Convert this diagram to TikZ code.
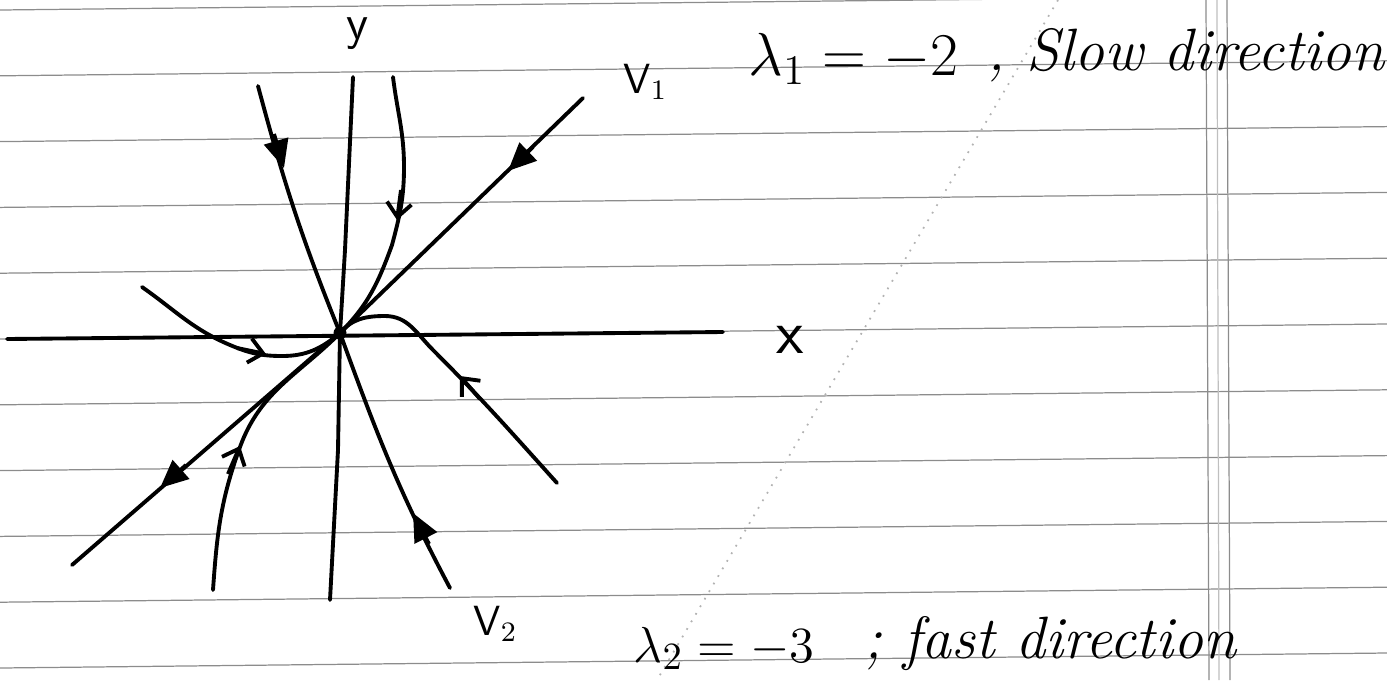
\documentclass[tikz,border=0pt]{standalone}
\usepackage{fontspec}
\usetikzlibrary{arrows.meta}

\tikzset{
    traj/.style={line width=1.1pt, line cap=round, line join=round},
    ruled/.style={black!45, line width=0.35pt},
    tipfill/.style={line width=1.1pt, -{Triangle[length=8pt,width=7pt]}},
    tipbarb/.style={line width=1.1pt, -{Straight Barb[length=4pt,width=7pt]}},
    hand/.style={font=\sffamily\fontsize{12}{14}\selectfont, inner sep=0pt},
    eqn/.style={font=\fontsize{15}{18}\selectfont, inner sep=0pt},
    script/.style={font=\itshape\fontsize{17}{20}\selectfont, inner sep=0pt},
}

\begin{document}
\begin{tikzpicture}[x=0.1mm, y=-0.1mm]
    \useasboundingbox (0,0) rectangle (1387,680);

    \foreach \k in {0,...,10}
        \draw[ruled] (0,{10+65.8*\k}) -- (1387,{-5+65.8*\k});
    \draw[ruled] (1206,0) -- (1209,680);
    \draw[ruled, black!25] (1217,0) -- (1219,680);
    \draw[ruled] (1227,0) -- (1230,680);
    \draw[black!30, dotted, line width=0.5pt] (1058,0) -- (657,680);

    \coordinate (O) at (340,333);
    \draw[traj] (7,339) -- (723,332);
    \draw[traj] (353,77) -- (345,250) -- (O) -- (338,450) -- (330,600);
    \node[hand, font=\sffamily\fontsize{18}{20}\selectfont] (xlab) at (790,340) {x};
    \node[hand, font=\sffamily\fontsize{14}{16}\selectfont] (ylab) at (358,34) {y};

    % eigen-directions
    \draw[traj] (583,98) -- (O) -- (72,565);
    \draw[traj] (258,86) to[out=-75,in=112] (O) to[out=-70,in=118] (450,588);
    \draw[tipfill] (533,147) -- (508,171);
    \draw[tipfill] (186,465) -- (160,488);
    \draw[tipfill] (274,134) -- (284,168);
    \draw[tipfill] (429,544) -- (413,513);

    % other trajectories
    \draw[traj] (393,77) to[out=-83,in=90] (404,167) to[out=-90,in=75] (392,245) to[out=-110,in=45] (O);
    \draw[traj] (142,287) to[out=-35,in=157] (230,345) to[out=-23,in=180] (282,356) to[out=0,in=-140] (O);
    \draw[traj] (213,590) to[out=86,in=-110] (240,447) to[out=70,in=-135] (O);
    \draw[traj] (O) to[out=50,in=180] (385,316) to[out=0,in=135] (433,350) to[out=-45,in=132] (557,483);
    \draw[tipbarb] (401,190) -- (397,220);
    \draw[tipbarb] (237,348) -- (266,354);
    \draw[tipbarb] (228,474) -- (240,446);
    \draw[tipbarb] (480,399) -- (460,376);
    \fill (O) circle[radius=0.65mm];

    \node[hand, anchor=base west] (vone) at (623,93) {V$_1$};
    \node[eqn, font=\fontsize{17}{20}\selectfont, anchor=base west] (lamone) at (748,75) {$\lambda_1 = -2$};
    \node[script, anchor=base west] (slow) at (987,70) {,\ Slow direction};

    \node[hand, anchor=base west] (vtwo) at (473,635) {V$_2$};
    \node[eqn, anchor=base west] (lamtwo) at (633,662) {$\lambda_2 = -3$};
    \node[script, anchor=base west] (fast) at (864,658) {;\ fast direction};
\end{tikzpicture}
\end{document}
